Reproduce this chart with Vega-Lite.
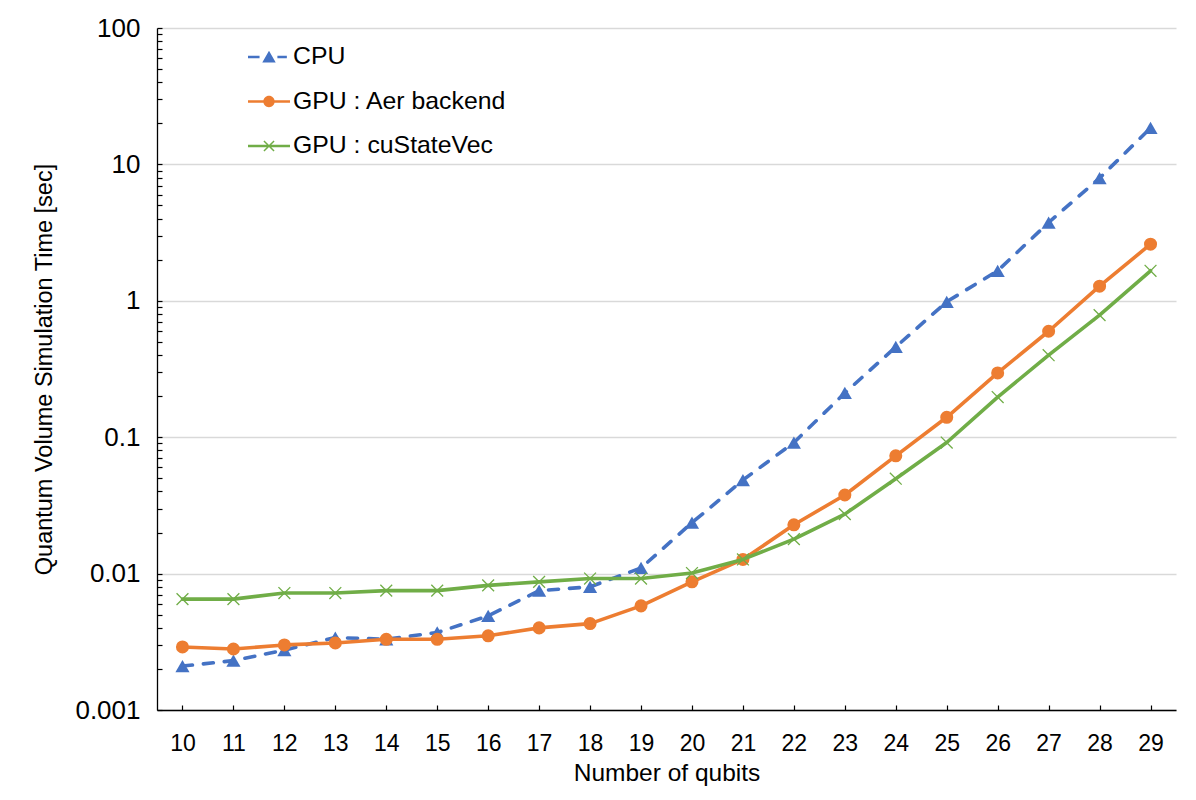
{
  "$schema": "https://vega.github.io/schema/vega-lite/v6.json",
  "width": 1019,
  "height": 682,
  "autosize": "none",
  "padding": {"left": 157, "top": 28, "right": 20, "bottom": 90},
  "background": "white",
  "config": {
    "font": "Liberation Sans",
    "view": {"stroke": null}
  },
  "data": {
    "values": [
      {"qubits": 10, "series": "CPU", "time": 0.0021},
      {"qubits": 11, "series": "CPU", "time": 0.0023},
      {"qubits": 12, "series": "CPU", "time": 0.00275},
      {"qubits": 13, "series": "CPU", "time": 0.0034},
      {"qubits": 14, "series": "CPU", "time": 0.0033},
      {"qubits": 15, "series": "CPU", "time": 0.0037},
      {"qubits": 16, "series": "CPU", "time": 0.0049},
      {"qubits": 17, "series": "CPU", "time": 0.0075},
      {"qubits": 18, "series": "CPU", "time": 0.008},
      {"qubits": 19, "series": "CPU", "time": 0.011},
      {"qubits": 20, "series": "CPU", "time": 0.0236},
      {"qubits": 21, "series": "CPU", "time": 0.0485},
      {"qubits": 22, "series": "CPU", "time": 0.0914},
      {"qubits": 23, "series": "CPU", "time": 0.211},
      {"qubits": 24, "series": "CPU", "time": 0.459},
      {"qubits": 25, "series": "CPU", "time": 0.984},
      {"qubits": 26, "series": "CPU", "time": 1.66},
      {"qubits": 27, "series": "CPU", "time": 3.75},
      {"qubits": 28, "series": "CPU", "time": 7.94},
      {"qubits": 29, "series": "CPU", "time": 18.5},
      {"qubits": 10, "series": "GPU : Aer backend", "time": 0.0029},
      {"qubits": 11, "series": "GPU : Aer backend", "time": 0.0028},
      {"qubits": 12, "series": "GPU : Aer backend", "time": 0.003},
      {"qubits": 13, "series": "GPU : Aer backend", "time": 0.0031},
      {"qubits": 14, "series": "GPU : Aer backend", "time": 0.0033},
      {"qubits": 15, "series": "GPU : Aer backend", "time": 0.0033},
      {"qubits": 16, "series": "GPU : Aer backend", "time": 0.0035},
      {"qubits": 17, "series": "GPU : Aer backend", "time": 0.004},
      {"qubits": 18, "series": "GPU : Aer backend", "time": 0.0043},
      {"qubits": 19, "series": "GPU : Aer backend", "time": 0.0058},
      {"qubits": 20, "series": "GPU : Aer backend", "time": 0.0087},
      {"qubits": 21, "series": "GPU : Aer backend", "time": 0.0127},
      {"qubits": 22, "series": "GPU : Aer backend", "time": 0.0228},
      {"qubits": 23, "series": "GPU : Aer backend", "time": 0.0377},
      {"qubits": 24, "series": "GPU : Aer backend", "time": 0.073},
      {"qubits": 25, "series": "GPU : Aer backend", "time": 0.14},
      {"qubits": 26, "series": "GPU : Aer backend", "time": 0.296},
      {"qubits": 27, "series": "GPU : Aer backend", "time": 0.598},
      {"qubits": 28, "series": "GPU : Aer backend", "time": 1.28},
      {"qubits": 29, "series": "GPU : Aer backend", "time": 2.6},
      {"qubits": 10, "series": "GPU : cuStateVec", "time": 0.0065},
      {"qubits": 11, "series": "GPU : cuStateVec", "time": 0.0065},
      {"qubits": 12, "series": "GPU : cuStateVec", "time": 0.0072},
      {"qubits": 13, "series": "GPU : cuStateVec", "time": 0.0072},
      {"qubits": 14, "series": "GPU : cuStateVec", "time": 0.0075},
      {"qubits": 15, "series": "GPU : cuStateVec", "time": 0.0075},
      {"qubits": 16, "series": "GPU : cuStateVec", "time": 0.0082},
      {"qubits": 17, "series": "GPU : cuStateVec", "time": 0.0087},
      {"qubits": 18, "series": "GPU : cuStateVec", "time": 0.0092},
      {"qubits": 19, "series": "GPU : cuStateVec", "time": 0.0092},
      {"qubits": 20, "series": "GPU : cuStateVec", "time": 0.0101},
      {"qubits": 21, "series": "GPU : cuStateVec", "time": 0.0127},
      {"qubits": 22, "series": "GPU : cuStateVec", "time": 0.0179},
      {"qubits": 23, "series": "GPU : cuStateVec", "time": 0.0273},
      {"qubits": 24, "series": "GPU : cuStateVec", "time": 0.0496},
      {"qubits": 25, "series": "GPU : cuStateVec", "time": 0.0914},
      {"qubits": 26, "series": "GPU : cuStateVec", "time": 0.197},
      {"qubits": 27, "series": "GPU : cuStateVec", "time": 0.399},
      {"qubits": 28, "series": "GPU : cuStateVec", "time": 0.785},
      {"qubits": 29, "series": "GPU : cuStateVec", "time": 1.66}
    ]
  },
  "encoding": {
    "x": {
      "field": "qubits",
      "type": "ordinal",
      "title": "Number of qubits",
      "scale": {"type": "point", "padding": 0.5},
      "axis": {
        "labelAngle": 0,
        "labelFontSize": 23,
        "labelColor": "#000000",
        "labelPadding": 27,
        "tickSize": -5,
        "tickColor": "#000000",
        "tickWidth": 1.2,
        "domainColor": "#000000",
        "domainWidth": 1.3,
        "grid": false,
        "titleFontSize": 24.5,
        "titleFontWeight": "normal",
        "titleColor": "#000000",
        "titlePadding": 6
      }
    },
    "y": {
      "field": "time",
      "type": "quantitative",
      "title": "Quantum Volume Simulation Time [sec]",
      "scale": {"type": "log", "domain": [0.001, 100], "nice": false},
      "axis": {
        "values": [0.001, 0.002, 0.003, 0.004, 0.005, 0.006, 0.007, 0.008, 0.009,
                   0.01, 0.02, 0.03, 0.04, 0.05, 0.06, 0.07, 0.08, 0.09,
                   0.1, 0.2, 0.3, 0.4, 0.5, 0.6, 0.7, 0.8, 0.9,
                   1, 2, 3, 4, 5, 6, 7, 8, 9,
                   10, 20, 30, 40, 50, 60, 70, 80, 90, 100],
        "labelExpr": "abs(log(datum.value) / LN10 - round(log(datum.value) / LN10)) < 0.001 ? format(datum.value, '~g') : ''",
        "labelOverlap": false,
        "labelFontSize": 26,
        "labelColor": "#000000",
        "labelPadding": 22,
        "tickSize": -5,
        "tickColor": "#000000",
        "tickWidth": 1.2,
        "domainColor": "#000000",
        "domainWidth": 1.3,
        "grid": true,
        "gridColor": "#D9D9D9",
        "gridWidth": 1.3,
        "gridOpacity": {
          "condition": {"test": "abs(log(datum.value) / LN10 - round(log(datum.value) / LN10)) < 0.001", "value": 1},
          "value": 0
        },
        "titleFontSize": 23.5,
        "titleFontWeight": "normal",
        "titleColor": "#000000",
        "titlePadding": 18
      }
    }
  },
  "layer": [
    {
      "transform": [{"filter": "datum.series === 'CPU'"}],
      "mark": {"type": "line", "color": "#4472C4", "strokeWidth": 3.6, "strokeCap": "round", "strokeJoin": "round", "strokeDash": [10, 11]}
    },
    {
      "transform": [{"filter": "datum.series === 'CPU'"}],
      "mark": {"type": "point", "shape": "triangle-up", "filled": true, "fill": "#4472C4", "opacity": 1, "size": 200}
    },
    {
      "transform": [{"filter": "datum.series === 'GPU : Aer backend'"}],
      "mark": {"type": "line", "color": "#ED7D31", "strokeWidth": 3.6, "strokeCap": "round", "strokeJoin": "round"}
    },
    {
      "transform": [{"filter": "datum.series === 'GPU : Aer backend'"}],
      "mark": {"type": "point", "shape": "circle", "filled": true, "fill": "#ED7D31", "opacity": 1, "size": 170}
    },
    {
      "transform": [{"filter": "datum.series === 'GPU : cuStateVec'"}],
      "mark": {"type": "line", "color": "#70AD47", "strokeWidth": 3.6, "strokeCap": "round", "strokeJoin": "round"}
    },
    {
      "transform": [{"filter": "datum.series === 'GPU : cuStateVec'"}],
      "mark": {"type": "point", "shape": "M-1,-1L1,1M-1,1L1,-1", "filled": false, "stroke": "#70AD47", "strokeWidth": 1.3, "opacity": 1, "size": 140}
    },
    {
      "mark": {"type": "point", "filled": true, "opacity": 0},
      "encoding": {
        "color": {
          "field": "series",
          "type": "nominal",
          "scale": {"domain": ["CPU", "GPU : Aer backend", "GPU : cuStateVec"], "range": ["#4472C4", "#ED7D31", "#70AD47"]},
          "legend": {
            "title": null,
            "orient": "none",
            "legendX": 91,
            "legendY": 8,
            "padding": 0,
            "symbolSize": 1764,
            "symbolOpacity": 1,
            "symbolStrokeWidth": 0,
            "labelFontSize": 24.8,
            "labelColor": "#000000",
            "labelLimit": 0,
            "labelOffset": 3,
            "rowPadding": 11.5
          }
        },
        "shape": {
          "field": "series",
          "type": "nominal",
          "scale": {
            "domain": ["CPU", "GPU : Aer backend", "GPU : cuStateVec"],
            "range": [
              "M-1,-0.055V0.055H-0.45V-0.055ZM0.4,-0.055V0.055H0.85V-0.055ZM0,-0.3L-0.32,0.26L0.32,0.26Z",
              "M-1,-0.055V0.055H1V-0.055ZM-0.27,0A0.27,0.27 0 1,0 0.27,0A0.27,0.27 0 1,0 -0.27,0Z",
              "M-1,-0.055V0.055H1V-0.055ZM-0.265,-0.215L0.215,0.265L0.265,0.215L-0.215,-0.265ZM-0.215,0.265L0.265,-0.215L0.215,-0.265L-0.265,0.215Z"
            ]
          },
          "legend": {
            "title": null,
            "orient": "none",
            "legendX": 91,
            "legendY": 8,
            "padding": 0,
            "symbolSize": 1764,
            "symbolOpacity": 1,
            "symbolStrokeWidth": 0,
            "labelFontSize": 24.8,
            "labelColor": "#000000",
            "labelLimit": 0,
            "labelOffset": 3,
            "rowPadding": 11.5
          }
        }
      }
    }
  ]
}
